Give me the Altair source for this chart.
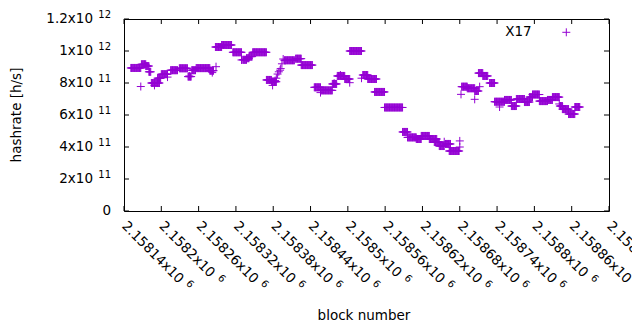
import altair as alt
import pandas as pd

# ---- data (hashrate in units of 1e11 h/s) ----
run_start = [2158151, 2158168, 2158175, 2158180, 2158184, 2158194, 2158200, 2158215,
             2158229, 2158243, 2158249, 2158256, 2158278, 2158287, 2158297, 2158315,
             2158331, 2158337, 2158341, 2158347, 2158369, 2158377, 2158398, 2158416,
             2158425, 2158446, 2158456, 2158475, 2158483, 2158495, 2158503, 2158524,
             2158532, 2158543, 2158559, 2158588, 2158596, 2158610, 2158618, 2158631,
             2158639, 2158647, 2158657, 2158663, 2158683, 2158692, 2158704, 2158710,
             2158717, 2158728, 2158736, 2158752, 2158763, 2158771, 2158784, 2158792,
             2158797, 2158808, 2158821, 2158829, 2158841, 2158845, 2158855, 2158865]
run_end = [2158167, 2158175, 2158180, 2158183, 2158197, 2158199, 2158210, 2158226,
           2158242, 2158248, 2158255, 2158278, 2158284, 2158297, 2158313, 2158329,
           2158337, 2158341, 2158346, 2158369, 2158377, 2158385, 2158414, 2158425,
           2158443, 2158456, 2158475, 2158482, 2158495, 2158503, 2158522, 2158532,
           2158546, 2158559, 2158588, 2158596, 2158610, 2158618, 2158631, 2158643,
           2158647, 2158655, 2158665, 2158679, 2158692, 2158704, 2158710, 2158717,
           2158725, 2158736, 2158752, 2158763, 2158771, 2158784, 2158792, 2158797,
           2158808, 2158821, 2158829, 2158840, 2158845, 2158855, 2158865, 2158873]
run_value = [8.94, 9.17, 9.06, 8.70, 8.00, 8.30, 8.55, 8.80,
             8.92, 8.40, 8.80, 8.93, 8.77, 10.25, 10.375, 9.92,
             9.45, 9.55, 9.65, 9.92, 8.19, 8.08, 9.42, 9.52,
             9.12, 7.73, 7.54, 7.94, 8.44, 8.25, 10.0, 8.50,
             8.25, 7.44, 6.47, 4.94, 4.60, 4.50, 4.69, 4.50,
             4.31, 4.06, 4.19, 3.75, 7.77, 7.67, 7.50, 8.62,
             8.44, 8.00, 6.83, 6.94, 6.56, 7.00, 6.81, 7.12,
             7.28, 6.87, 6.94, 7.12, 6.56, 6.37, 6.06, 6.50]

single_block = [2158167, 2158189, 2158210, 2158245, 2158282, 2158288, 2158329, 2158379,
                2158383, 2158385, 2158387, 2158389, 2158391, 2158392, 2158394, 2158396,
                2158456, 2158478, 2158488, 2158503, 2158522, 2158655, 2158680, 2158680,
                2158682, 2158704, 2158712, 2158744, 2158840]
single_value = [7.78, 7.85, 8.37, 8.44, 8.65, 9.02, 9.44, 7.85,
                8.15, 8.30, 8.56, 8.70, 8.80, 8.90, 9.20, 9.50,
                7.40, 7.98, 8.50, 8.02, 8.30, 4.33, 4.38, 4.00,
                7.29, 6.98, 7.77, 6.50, 6.69]

x_tick_values = [2158140, 2158200, 2158260, 2158320, 2158380, 2158440, 2158500,
                 2158560, 2158620, 2158680, 2158740, 2158800, 2158860, 2158920]
x_tick_labels = ["2.15814x10", "2.1582x10", "2.15826x10", "2.15832x10", "2.15838x10",
                 "2.15844x10", "2.1585x10", "2.15856x10", "2.15862x10", "2.15868x10",
                 "2.15874x10", "2.1588x10", "2.15886x10", "2.15892x10"]
x_tick_exp = "6"

y_tick_values = [0, 2e11, 4e11, 6e11, 8e11, 1e12, 1.2e12]
y_tick_labels = ["0", "2x10", "4x10", "6x10", "8x10", "1x10", "1.2x10"]
y_tick_exps = ["", "11", "11", "11", "11", "12", "12"]

series_name = "X17"
x_title = "block number"
y_title = "hashrate [h/s]"

# ---- build tables ----
rows = []
for s, e, v in zip(run_start, run_end, run_value):
    for b in range(s, e + 1):
        rows.append({"block": b, "hashrate": v * 1e11})
for b, v in zip(single_block, single_value):
    rows.append({"block": b, "hashrate": v * 1e11})
pts = pd.DataFrame(rows)

xt = pd.DataFrame({"v": x_tick_values, "label": x_tick_labels, "exp": x_tick_exp})
yt = pd.DataFrame({"v": y_tick_values, "label": y_tick_labels, "exp": y_tick_exps})

W, H = 485, 192
FONT = "DejaVu Sans"
FS = 13.5
FS_SUP = 10
PURPLE = "#9400d3"
PLUS = "M-1,0L1,0M0,-1L0,1"

xs = alt.Scale(domain=[x_tick_values[0], x_tick_values[-1]], nice=False, zero=False)
ys = alt.Scale(domain=[0, 1.2e12], nice=False, zero=False)

points = alt.Chart(pts).mark_point(
    shape=PLUS, filled=False, size=64, strokeWidth=1, color=PURPLE, opacity=1
).encode(
    x=alt.X("block:Q", scale=xs, axis=None),
    y=alt.Y("hashrate:Q", scale=ys, axis=None),
)

tick_len = 5
ytick_l = alt.Chart(yt).mark_rule(color="black", strokeWidth=1).encode(
    y=alt.Y("v:Q", scale=ys, axis=None), x=alt.value(0), x2=alt.value(tick_len))
ytick_r = alt.Chart(yt).mark_rule(color="black", strokeWidth=1).encode(
    y=alt.Y("v:Q", scale=ys, axis=None), x=alt.value(W - tick_len), x2=alt.value(W))
xtick_b = alt.Chart(xt).mark_rule(color="black", strokeWidth=1).encode(
    x=alt.X("v:Q", scale=xs, axis=None), y=alt.value(H), y2=alt.value(H - tick_len))
xtick_t = alt.Chart(xt).mark_rule(color="black", strokeWidth=1).encode(
    x=alt.X("v:Q", scale=xs, axis=None), y=alt.value(0), y2=alt.value(tick_len))

ylab_main = alt.Chart(yt).transform_filter("datum.exp != ''").mark_text(
    align="right", baseline="middle", fontSize=FS, font=FONT, color="black"
).encode(y=alt.Y("v:Q", scale=ys, axis=None), x=alt.value(-31), text="label:N")
ylab_zero = alt.Chart(yt).transform_filter("datum.exp == ''").mark_text(
    align="right", baseline="middle", fontSize=FS, font=FONT, color="black"
).encode(y=alt.Y("v:Q", scale=ys, axis=None), x=alt.value(-13), text="label:N")
ylab_exp = alt.Chart(yt).transform_filter("datum.exp != ''").mark_text(
    align="right", baseline="middle", fontSize=FS_SUP, font=FONT, color="black", dy=-4
).encode(y=alt.Y("v:Q", scale=ys, axis=None), x=alt.value(-13), text="exp:N")

LAB_Y = H + 13
xlab_main = alt.Chart(xt).mark_text(
    align="left", baseline="middle", fontSize=FS, font=FONT, color="black", angle=45
).encode(x=alt.X("v:Q", scale=xs, axis=None), y=alt.value(LAB_Y), text="label:N")
xlab_exp_long = alt.Chart(xt).transform_filter("length(datum.label) == 10").mark_text(
    align="left", baseline="middle", fontSize=FS_SUP, font=FONT, color="black", angle=45,
    dx=86, dy=-4
).encode(x=alt.X("v:Q", scale=xs, axis=None), y=alt.value(LAB_Y), text="exp:N")
xlab_exp_short = alt.Chart(xt).transform_filter("length(datum.label) == 9").mark_text(
    align="left", baseline="middle", fontSize=FS_SUP, font=FONT, color="black", angle=45,
    dx=78, dy=-4
).encode(x=alt.X("v:Q", scale=xs, axis=None), y=alt.value(LAB_Y), text="exp:N")

titles = pd.DataFrame({"t": [x_title], "u": [y_title], "s": [series_name]})
xtitle = alt.Chart(titles).mark_text(
    align="center", baseline="middle", fontSize=FS, font=FONT, color="black"
).encode(x=alt.value(240), y=alt.value(297), text="t:N")
ytitle = alt.Chart(titles).mark_text(
    align="center", baseline="middle", fontSize=FS, font=FONT, color="black", angle=270
).encode(x=alt.value(-107), y=alt.value(96), text="u:N")
legend_text = alt.Chart(titles).mark_text(
    align="right", baseline="middle", fontSize=FS, font=FONT, color="black"
).encode(x=alt.value(407.6), y=alt.value(13), text="s:N")
legend_pt = alt.Chart(titles).mark_point(
    shape=PLUS, filled=False, size=64, strokeWidth=1, color=PURPLE, opacity=1
).encode(x=alt.value(442.3), y=alt.value(13.3))

chart = alt.layer(
    points, ytick_l, ytick_r, xtick_b, xtick_t,
    ylab_main, ylab_zero, ylab_exp, xlab_main, xlab_exp_long, xlab_exp_short,
    xtitle, ytitle, legend_text, legend_pt,
).properties(
    width=W, height=H,
    padding={"left": 116, "top": 11, "right": 23, "bottom": 119},
    autosize="none",
    background="white",
).configure_view(stroke="black", strokeWidth=1)

chart.save("out.html", embed_options={"renderer": "svg", "actions": False})
